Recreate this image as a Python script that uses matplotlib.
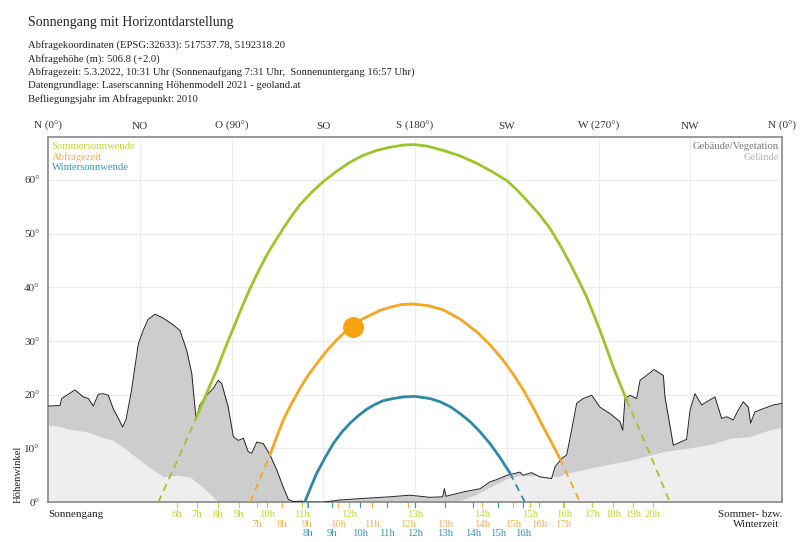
import matplotlib.pyplot as plt

plt.rcParams['font.family'] = ['Liberation Serif', 'DejaVu Serif']

# Horizont: Gebäude/Vegetation (Azimut in Grad, Höhenwinkel in Grad)
terrain_az = [0, 5.9, 6.7, 13.2, 17.3, 19.8, 22.2, 24.7, 27.1, 29.6,
              32.0, 34.5, 36.6, 38.3, 41.0, 44.3, 46.7, 49.0, 52.5, 56.4,
              60.8, 64.7, 68.0, 70.5, 72.6, 74.5, 77.8, 81.1, 83.5, 85.2,
              88.4, 90.9, 93.3, 95.8, 98.2, 99.9, 102.4, 105.6, 108.9, 112.2,
              115.4, 117.9, 120.3, 124.4, 126.0, 135.0, 143.2, 154.6, 167.7, 177.5,
              187.3, 193.6, 194.4, 195.2, 203.7, 211.9, 216.8, 220.1, 225.0, 231.5,
              233.1, 237.2, 241.3, 247.0, 248.7, 251.9, 254.4, 256.8, 259.3, 262.5,
              266.7, 270.7, 275.6, 280.5, 281.9, 283.0, 285.4, 288.7, 290.4, 293.6,
              297.2, 301.8, 302.6, 306.7, 313.2, 314.9, 317.3, 320.6, 323.1, 327.1,
              330.4, 332.9, 336.1, 338.5, 341.0, 343.5, 344.6, 346.7, 350.8, 355.7,
              360]
terrain_el = [17.9, 18.0, 19.3, 20.9, 19.6, 19.3, 17.9, 20.1, 20.2, 19.9,
              17.4, 15.6, 14.0, 15.4, 20.9, 29.5, 32.0, 34.0, 35.0, 34.3,
              33.2, 32.0, 28.3, 24.0, 15.6, 18.1, 19.9, 21.2, 22.7, 22.1,
              17.7, 12.2, 11.5, 11.9, 9.4, 9.1, 11.2, 10.9, 8.8, 6.0,
              2.8, 0.5, 0.1, 0.2, 0.0, 0.0, 0.4, 0.7, 1.0, 1.3,
              0.9, 1.0, 2.5, 1.1, 1.9, 2.5, 3.8, 4.2, 5.0, 5.6,
              5.0, 5.5, 4.7, 4.4, 6.6, 8.1, 8.8, 13.4, 18.4, 19.3,
              19.9, 17.7, 16.5, 15.0, 13.4, 19.3, 19.9, 19.3, 22.7, 23.6,
              24.7, 23.6, 19.6, 10.6, 11.7, 17.1, 20.2, 18.1, 18.7, 19.6,
              15.6, 15.9, 15.3, 17.1, 18.7, 17.7, 14.7, 16.8, 17.4, 18.1,
              18.4]

# Gelände
ground_az = [0, 3.4, 9.2, 19.0, 25.5, 32.0, 37.8, 45.1, 51.7, 56.6, 63.1, 69.6, 74.5,
             79.4, 83.5, 200.0, 210.4, 216.8, 225.0, 231.5, 251.0, 252.9, 269.1, 285.4,
             301.8, 318.1, 326.3, 334.5, 344.3, 350.8, 360]
ground_el = [14.3, 14.3, 13.7, 13.1, 12.2, 11.5, 10.0, 7.8, 6.0, 4.7, 5.0, 4.7, 3.2,
             1.6, 0.0, 0.0, 1.5, 2.8, 4.4, 5.0, 4.8, 5.3, 6.6, 7.8,
             9.4, 10.3, 10.9, 11.9, 12.2, 13.1, 14.0]

# Sommersonnwende
summer_dash1_az = [54.1, 63.5, 72.9]
summer_dash1_el = [0, 7.8, 15.9]
summer_az = [72.9, 77.8, 82.7, 86.8, 90.9, 95.0, 99.1, 103.2, 107.3, 111.4, 115.4, 119.5,
             123.6, 129.3, 135.0, 141.5, 148.1, 154.6, 161.2, 167.7, 174.3, 179.5,
             186.0, 193.9, 202.0, 210.3, 217.6, 225.0, 229.9, 234.8, 240.5, 246.2,
             251.1, 256.0, 260.1, 264.2, 267.5, 270.7, 274.0, 277.2, 280.5, 283.8]
summer_el = [15.9, 20.3, 24.6, 28.6, 32.4, 36.2, 39.8, 43.0, 46.0, 48.6, 51.0, 53.3,
             55.4, 57.7, 59.7, 61.6, 63.3, 64.6, 65.5, 66.1, 66.5, 66.6,
             66.3, 65.5, 64.5, 63.1, 61.6, 59.9, 58.2, 56.2, 53.8, 51.0,
             47.9, 44.5, 41.4, 38.2, 35.1, 32.0, 28.6, 25.2, 22.1, 19.0]
summer_dash2_az = [283.8, 294.4, 305.0]
summer_dash2_el = [19.0, 9.7, 0]

# Abfragezeit (5.3.2022)
query_dash1_az = [99.1, 104.0, 108.9]
query_dash1_el = [0, 4.4, 8.8]
query_az = [108.9, 112.2, 115.4, 119.5, 123.6, 127.7, 131.8, 136.7, 141.6, 145.7, 149.7,
            153.8, 157.9, 162.8, 167.7, 173.3, 179.0, 186.5, 193.9, 202.1, 210.3,
            216.8, 223.3, 228.2, 233.1, 238.0, 242.9, 247.0, 251.1]
query_el = [8.8, 12.2, 15.3, 18.4, 21.2, 23.7, 25.8, 28.2, 30.2, 31.7, 33.0,
            34.0, 34.8, 35.7, 36.3, 36.8, 36.9, 36.6, 35.8, 34.1, 31.7,
            29.3, 26.4, 23.8, 20.9, 17.6, 14.0, 11.1, 8.1]
query_dash2_az = [251.1, 260.9]
query_dash2_el = [8.1, 0]
sun_az = 149.7
sun_el = 32.6

# Wintersonnwende
winter_az = [126.0, 128.9, 131.8, 135.9, 139.9, 144.0, 148.1, 152.2, 156.3, 160.4, 164.4,
             169.4, 174.3, 180.0, 187.3, 192.3, 197.2, 202.1, 207.0, 211.9, 216.8,
             221.7, 226.6]
winter_el = [0.1, 2.8, 5.4, 8.3, 10.9, 13.0, 14.7, 16.1, 17.3, 18.2, 18.9,
             19.3, 19.6, 19.7, 19.3, 18.7, 17.8, 16.5, 15.0, 13.1, 10.9,
             8.3, 5.4]
winter_dash_az = [226.6, 233.9]
winter_dash_el = [5.4, 0]

# Stunden (Azimut)
summer_hours = ['6h', '7h', '8h', '9h', '10h', '11h', '12h', '13h', '14h', '15h', '16h',
                '17h', '18h', '19h', '20h']
summer_hour_az = [63.1, 72.9, 83.5, 93.8, 107.3, 124.4, 147.8, 180.0, 212.7, 236.4, 253.3,
                  266.7, 276.9, 287.1, 296.6]
query_hours = ['7h', '8h', '9h', '10h', '11h', '12h', '13h', '14h', '15h', '16h', '17h']
query_hour_az = [102.4, 114.6, 126.9, 142.4, 158.8, 176.7, 194.7, 212.7, 228.2, 240.9, 252.7]
winter_hours = ['8h', '9h', '10h', '11h', '12h', '13h', '14h', '15h', '16h']
winter_hour_az = [127.7, 139.2, 153.0, 166.1, 180.0, 194.7, 208.3, 220.9, 233.2]

compass_pos = [0, 45, 90, 135, 180, 225, 270, 315, 360]
compass_labels = ['N (0°)', 'NO', 'O (90°)', 'SO', 'S (180°)', 'SW', 'W (270°)', 'NW', 'N (0°)']
elev_ticks = [0, 10, 20, 30, 40, 50, 60]

c_summer = '#9cc52a'
c_summer_txt = '#c0d43c'
c_query = '#f5a623'
c_query_txt = '#f0b050'
c_winter = '#2f88a4'
c_winter_txt = '#3f93b2'

fig = plt.figure(figsize=(8, 5.42), dpi=100)
ax = fig.add_axes([0.06, 0.0735, 0.9175, 0.6737])

# Horizont
ax.fill_between(terrain_az, 0, terrain_el, color='#cdcdcd', lw=0, zorder=1)
ax.fill_between(ground_az, 0, ground_el, color='#eeeeee', lw=0, zorder=2)
ax.plot(terrain_az, terrain_el, color='#222222', lw=0.7, zorder=3)

# Sonnenbahnen
dash = (0, (4, 3))
ax.plot(summer_dash1_az, summer_dash1_el, color=c_summer, lw=1.3, ls=dash, zorder=4)
ax.plot(summer_dash2_az, summer_dash2_el, color=c_summer, lw=1.3, ls=dash, zorder=4)
ax.plot(summer_az, summer_el, color=c_summer, lw=2.0, zorder=5, solid_capstyle='round')
ax.plot(query_dash1_az, query_dash1_el, color=c_query, lw=1.3, ls=dash, zorder=4)
ax.plot(query_dash2_az, query_dash2_el, color=c_query, lw=1.3, ls=dash, zorder=4)
ax.plot(query_az, query_el, color=c_query, lw=2.0, zorder=5, solid_capstyle='round')
ax.plot(winter_dash_az, winter_dash_el, color=c_winter, lw=1.3, ls=dash, zorder=4)
ax.plot(winter_az, winter_el, color=c_winter, lw=2.0, zorder=5, solid_capstyle='round')
ax.plot([sun_az], [sun_el], 'o', color='#f7a20f', ms=14, zorder=6)

ax.set_xlim(0, 360)
ax.set_ylim(0, 68)
for a in [45, 90, 135, 180, 225, 270, 315]:
    ax.axvline(a, color='#ececec', lw=0.8, zorder=0)
for e in elev_ticks[1:]:
    ax.axhline(e, color='#ececec', lw=0.8, zorder=0)

ax.set_xticks(compass_pos)
ax.set_xticklabels(compass_labels, fontsize=8, color='#333333')
ax.xaxis.set_ticks_position('top')
ax.tick_params(axis='x', length=0, pad=4)
ax.set_yticks(elev_ticks)
ax.set_yticklabels([f'{e}°' for e in elev_ticks], fontsize=8, color='#333333')
ax.tick_params(axis='y', length=0, pad=6)
for s in ax.spines.values():
    s.set_color('#8a8a8a')
    s.set_linewidth(1.2)

# Stundenbeschriftung unter der Achse
tr = ax.get_xaxis_transform()
rows = [(summer_hour_az, summer_hours, c_summer_txt, -0.033),
        (query_hour_az, query_hours, c_query_txt, -0.060),
        (winter_hour_az, winter_hours, c_winter_txt, -0.086)]
for az_list, labels, col, yy in rows:
    for a, lab in zip(az_list, labels):
        ax.plot([a, a], [0, -0.014], color=col, lw=0.8, transform=tr, clip_on=False)
        ax.text(a, yy, lab, transform=tr, color=col, fontsize=7.7, ha='center', va='center')

ax.text(0, -0.033, 'Sonnengang', transform=tr, fontsize=8, color='#222222', ha='left', va='center')
ax.text(1.001, -0.033, 'Sommer- bzw.', transform=ax.transAxes, fontsize=8, color='#222222',
        ha='right', va='center')
ax.text(0.996, -0.060, 'Winterzeit', transform=ax.transAxes, fontsize=8, color='#222222',
        ha='right', va='center')

# Legenden
ax.text(0.005, 0.973, 'Sommersonnwende', transform=ax.transAxes, fontsize=7.7, color=c_summer_txt, va='center')
ax.text(0.005, 0.945, 'Abfragezeit', transform=ax.transAxes, fontsize=7.7, color=c_query_txt, va='center')
ax.text(0.005, 0.917, 'Wintersonnwende', transform=ax.transAxes, fontsize=7.7, color=c_winter_txt, va='center')
ax.text(0.996, 0.973, 'Gebäude/Vegetation', transform=ax.transAxes, fontsize=7.7, color='#777777',
        ha='right', va='center')
ax.text(0.996, 0.945, 'Gelände', transform=ax.transAxes, fontsize=7.7, color='#b5b5b5',
        ha='right', va='center')

fig.text(0.0225, 0.124, 'Höhenwinkel', rotation=90, fontsize=7.7, color='#222222', ha='center', va='center')

# Kopfzeilen
fig.text(0.035, 0.959, 'Sonnengang mit Horizontdarstellung', fontsize=10, color='#222222', va='center')
header = ['Abfragekoordinaten (EPSG:32633): 517537.78, 5192318.20',
          'Abfragehöhe (m): 506.8 (+2.0)',
          'Abfragezeit: 5.3.2022, 10:31 Uhr (Sonnenaufgang 7:31 Uhr,  Sonnenuntergang 16:57 Uhr)',
          'Datengrundlage: Laserscanning Höhenmodell 2021 - geoland.at',
          'Befliegungsjahr im Abfragepunkt: 2010']
for i, line in enumerate(header):
    fig.text(0.035, 0.917 - i * 0.0252, line, fontsize=7.7, color='#222222', va='center')

fig.savefig('out.png', dpi=100)
